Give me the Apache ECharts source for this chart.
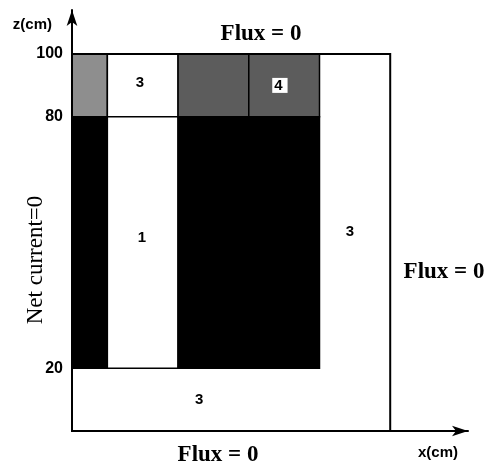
<!DOCTYPE html>
<html>
<head>
<meta charset="utf-8">
<script src="https://cdn.jsdelivr.net/npm/echarts@6/dist/echarts.min.js"></script>
<style>
  html, body { margin: 0; padding: 0; background: #fff; }
  #main { width: 487px; height: 466px; }
</style>
</head>
<body>
<div id="main"></div>
<script>
// schematic units: x columns, z bands (0-1 = 0..20cm, 1-5 = 20..80cm, 5-6 = 80..100cm)
var zTickValues = [1, 5, 6];
var zTickLabels = ['20', '80', '100'];

// regions: [x0, x1, z0, z1, material, outlined]
var cells = [
	[3.5, 4.5, 0, 6, 'white', 0],
	[0, 4.5, 0, 1, 'white', 0],
	[0, 0.5, 5, 6, 'grayLight', 1],
	[0, 0.5, 1, 5, 'black', 1],
	[0.5, 1.5, 5, 6, 'white', 1],
	[0.5, 1.5, 1, 5, 'white', 1],
	[1.5, 2.5, 5, 6, 'grayDark', 1],
	[1.5, 2.5, 1, 5, 'black', 1],
	[2.5, 3.5, 5, 6, 'grayDark', 1],
	[2.5, 3.5, 1, 5, 'black', 1],
	[0, 4.5, 0, 6, 'none', 1]
];

// material numbers: [x, z, text]
var regionLabels = [
	[0.96, 5.54, '3'],
	[0.99, 3.07, '1'],
	[3.93, 3.17, '3'],
	[1.8, 0.5, '3'],
	[2.94, 5.5, '4']
];

var fills = {
	black: '#000000',
	white: '#ffffff',
	grayLight: '#8e8e8e',
	grayDark: '#5c5c5c',
	none: null
};

var myChart = echarts.init(document.getElementById('main'));
var option = {
	animation: false,
	backgroundColor: '#ffffff',
	grid: { left: 72, right: 19, top: 10, bottom: 35 },
	xAxis: {
		type: 'value',
		min: 0,
		max: 5.6,
		name: 'x(cm)',
		nameLocation: 'end',
		nameGap: -30,
		nameTextStyle: {
			color: '#000', fontFamily: 'Liberation Sans', fontWeight: 'bold', fontSize: 15,
			align: 'center', verticalAlign: 'top', padding: [14, 0, 0, 0]
		},
		axisLine: { lineStyle: { color: '#000', width: 2 }, symbol: ['none', 'arrow'], symbolSize: [8, 16] },
		axisTick: { show: false },
		axisLabel: { show: false },
		splitLine: { show: false }
	},
	yAxis: {
		type: 'value',
		min: 0,
		max: 6.7,
		name: 'z(cm)',
		nameLocation: 'end',
		nameGap: -15,
		nameTextStyle: {
			color: '#000', fontFamily: 'Liberation Sans', fontWeight: 'bold', fontSize: 15,
			align: 'right', verticalAlign: 'middle', padding: [0, 20, 0, 0]
		},
		axisLine: { lineStyle: { color: '#000', width: 2 }, symbol: ['none', 'arrow'], symbolSize: [8, 16] },
		axisTick: { show: false },
		axisLabel: {
			customValues: zTickValues,
			color: '#000',
			fontFamily: 'Liberation Sans',
			fontWeight: 'bold',
			fontSize: 16,
			margin: 9,
			formatter: function(v) {
				var i = zTickValues.indexOf(v);
				return i >= 0 ? zTickLabels[i] : '';
			}
		},
		splitLine: { show: false }
	},
	series: [{
		type: 'custom',
		data: cells,
		renderItem: function(params, api) {
			var p0 = api.coord([api.value(0), api.value(3)]);
			var p1 = api.coord([api.value(1), api.value(2)]);
			var c = cells[params.dataIndex];
			return {
				type: 'rect',
				shape: { x: p0[0], y: p0[1], width: p1[0] - p0[0], height: p1[1] - p0[1] },
				style: {
					fill: fills[c[4]],
					stroke: c[5] ? '#000' : null,
					lineWidth: c[4] === 'none' ? 2 : 1.5
				}
			};
		}
	}, {
		type: 'custom',
		data: regionLabels,
		z: 5,
		renderItem: function(params, api) {
			var p = api.coord([api.value(0), api.value(1)]);
			var txt = regionLabels[params.dataIndex][2];
			var boxed = txt === '4';
			return {
				type: 'text',
				x: p[0],
				y: p[1],
				style: {
					text: txt,
					fill: '#000',
					font: 'bold 15px "Liberation Sans"',
					align: 'center',
					verticalAlign: 'middle',
					backgroundColor: boxed ? '#fff' : null,
					padding: boxed ? [0, 5, 0, 2] : 0
				}
			};
		}
	}],
	graphic: [
		{ type: 'text', x: 261, y: 34, style: { text: 'Flux = 0', font: 'bold 23px "Liberation Serif"', fill: '#000', align: 'center', verticalAlign: 'middle' } },
		{ type: 'text', x: 218, y: 455, style: { text: 'Flux = 0', font: 'bold 23px "Liberation Serif"', fill: '#000', align: 'center', verticalAlign: 'middle' } },
		{ type: 'text', x: 444, y: 272, style: { text: 'Flux = 0', font: 'bold 23px "Liberation Serif"', fill: '#000', align: 'center', verticalAlign: 'middle' } },
		{ type: 'text', x: 36, y: 260, rotation: Math.PI / 2, style: { text: 'Net current=0', font: '23px "Liberation Serif"', fill: '#000', align: 'center', verticalAlign: 'middle' } }
	]
};
myChart.setOption(option);
</script>
</body>
</html>
